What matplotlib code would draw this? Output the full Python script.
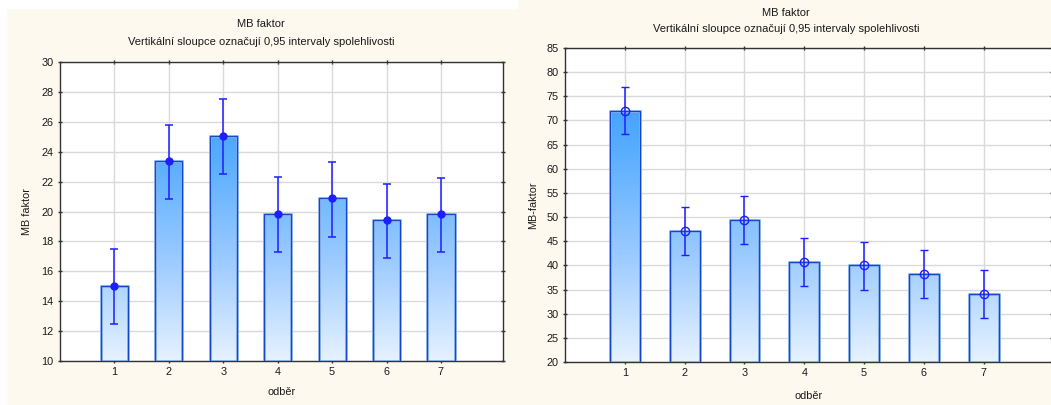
import numpy as np
import matplotlib
matplotlib.use("Agg")
import matplotlib.pyplot as plt
from matplotlib.colors import LinearSegmentedColormap
from matplotlib.patches import Rectangle
import matplotlib.patheffects as pe

plt.rcParams['font.family'] = ['Liberation Sans', 'DejaVu Sans']

# ---- data ----
categories = [1, 2, 3, 4, 5, 6, 7]
left_mean = [15.05, 23.35, 25.05, 19.85, 20.9, 19.45, 19.85]
left_lo = [12.5, 20.85, 22.5, 17.3, 18.3, 16.9, 17.3]
left_hi = [17.5, 25.8, 27.5, 22.28, 23.3, 21.85, 22.25]
left_yticks = [10, 12, 14, 16, 18, 20, 22, 24, 26, 28, 30]

right_mean = [72.0, 47.1, 49.4, 40.7, 40.0, 38.2, 34.1]
right_lo = [67.1, 42.2, 44.4, 35.8, 35.0, 33.2, 29.2]
right_hi = [76.9, 52.0, 54.3, 45.6, 44.9, 43.1, 39.0]
right_yticks = [20, 25, 30, 35, 40, 45, 50, 55, 60, 65, 70, 75, 80, 85]

title = "MB faktor"
subtitle = "Vertikální sloupce označují 0,95 intervaly spolehlivosti"
xlabel = "odběr"
left_ylabel = "MB faktor"
right_ylabel = "MB-faktor"

W, H = 1051, 405
cream = '#FDF9EE'
fig = plt.figure(figsize=(W / 100, H / 100), dpi=100, facecolor=cream)

# white strips
fig.patches.append(Rectangle((0, 0), 6 / W, 1, transform=fig.transFigure, color='white', zorder=0))
fig.patches.append(Rectangle((0, 1 - 8 / H), 517 / W, 8 / H, transform=fig.transFigure, color='white', zorder=0))

cmap = LinearSegmentedColormap.from_list('grad', ['#E6F2FF', '#9CCBFF', '#5AAEFF', '#2A92FF'])
grad = np.linspace(0, 1, 256).reshape(-1, 1)

FS_T = 8
FS = 7.8


def panel(rect, mean, lo, hi, yticks, ylabel, filled, title_y, sub_y, title_x, ylab_x, xlab_y):
    ax = fig.add_axes([rect[0] / W, 1 - rect[3] / H, (rect[2] - rect[0]) / W, (rect[3] - rect[1]) / H])
    ax.set_facecolor('white')
    ymin, ymax = yticks[0], yticks[-1]
    ax.set_xlim(0, 8.14)
    ax.set_ylim(ymin, ymax)
    ax.set_yticks(yticks)
    ax.set_xticks(categories)
    ax.grid(True, color='#DADADA', lw=1)
    ax.set_axisbelow(True)
    for s in ax.spines.values():
        s.set_color('#333333')
        s.set_linewidth(1)
    ax.tick_params(direction='inout', length=3, width=1, colors='#333333',
                   top=True, right=True, labelsize=FS, labelcolor='#1a1a1a', pad=3)
    w = 0.5
    for x, m in zip(categories, mean):
        r = Rectangle((x - w / 2, ymin), w, m - ymin, facecolor='none', edgecolor='#1448C8', lw=1.0, zorder=4)
        r.set_path_effects([pe.Stroke(linewidth=2.0, foreground='#9CC4F2'), pe.Normal()])
        ax.add_patch(r)
        im = ax.imshow(grad, cmap=cmap, origin='lower', aspect='auto',
                       extent=[x - w / 2, x + w / 2, ymin, ymax], zorder=3, interpolation='bilinear')
        clip = Rectangle((x - w / 2, ymin), w, m - ymin, transform=ax.transData)
        im.set_clip_path(clip)
    m = np.array(mean)
    yerr = [m - np.array(lo), np.array(hi) - m]
    if filled:
        ax.errorbar(categories, mean, yerr=yerr, fmt='o', color='#1E1EFF', ms=5, mfc='#1E1EFF', mec='#1E1EFF',
                    elinewidth=1.1, capsize=3, capthick=1.1, zorder=6)
    else:
        ax.errorbar(categories, mean, yerr=yerr, fmt='o', color='#1E1EFF', ms=6, mfc='none', mec='#1E1EFF',
                    mew=1, elinewidth=1.1, capsize=3, capthick=1.1, zorder=6)
    ax.set_xlim(0, 8.14)
    ax.set_ylim(ymin, ymax)
    fig.text(title_x / W, 1 - title_y / H, title, ha='center', va='center', fontsize=FS_T, color='#1a1a1a')
    fig.text(title_x / W, 1 - sub_y / H, subtitle, ha='center', va='center', fontsize=FS_T, color='#1a1a1a')
    fig.text(ylab_x / W, 1 - ((rect[1] + rect[3]) / 2) / H, ylabel, rotation=90, ha='center', va='center',
             fontsize=FS, color='#1a1a1a')
    fig.text(((rect[0] + rect[2]) / 2) / W, 1 - xlab_y / H, xlabel, ha='center', va='center',
             fontsize=FS, color='#1a1a1a')
    return ax


panel((60, 62, 503, 361), left_mean, left_lo, left_hi, left_yticks, left_ylabel, True,
      24, 42, 261, 27, 392)
panel((565, 48, 1052, 362), right_mean, right_lo, right_hi, right_yticks, right_ylabel, False,
      13, 29, 786, 533, 396)

fig.savefig('out.png', dpi=100, facecolor=cream)
